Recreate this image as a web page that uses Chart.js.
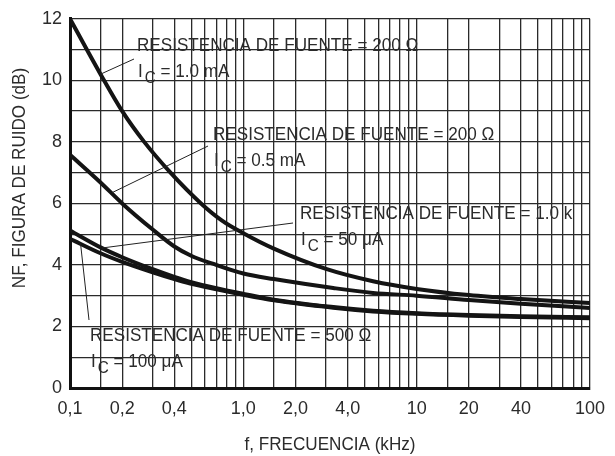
<!DOCTYPE html>
<html>
<head>
<meta charset="utf-8">
<script src="https://cdn.jsdelivr.net/npm/chart.js@4.4.1/dist/chart.umd.min.js"></script>
<style>
  html, body { margin: 0; padding: 0; background: #fff; }
</style>
</head>
<body>
<canvas id="nf" width="615" height="456"></canvas>
<script>
// NF (dB) vs frecuencia (kHz), una pareja de listas por curva
var freqA = [0.1, 0.125, 0.15, 0.2, 0.268, 0.38, 0.57, 0.75, 1.0, 1.5, 3.0, 5.6, 10, 20, 40, 100];
var nfA   = [12.0, 11.0, 10.2, 9.0, 8.0, 7.0, 6.0, 5.45, 5.03, 4.53, 3.87, 3.47, 3.22, 3.02, 2.89, 2.76];

var freqB = [0.1, 0.15, 0.2, 0.3, 0.4, 0.5, 0.665, 1.0, 1.5, 3.3, 5.6, 10, 20, 40, 100];
var nfB   = [7.58, 6.68, 6.0, 5.15, 4.6, 4.3, 4.04, 3.72, 3.54, 3.25, 3.09, 3.0, 2.86, 2.74, 2.6];

var freqC = [0.1, 0.15, 0.2, 0.3, 0.4, 0.5, 0.7, 1.0, 1.5, 3.3, 5.6, 10, 20, 40, 100];
var nfC   = [5.12, 4.57, 4.25, 3.86, 3.61, 3.44, 3.24, 3.06, 2.87, 2.63, 2.51, 2.43, 2.37, 2.33, 2.3];

var freqD = [0.1, 0.15, 0.2, 0.3, 0.4, 0.5, 0.7, 1.0, 1.5, 3.3, 5.6, 10, 20, 40, 100];
var nfD   = [4.85, 4.38, 4.1, 3.76, 3.54, 3.39, 3.21, 3.03, 2.85, 2.61, 2.49, 2.41, 2.35, 2.31, 2.27];

var xTicks = [0.1, 0.2, 0.4, 1, 2, 4, 10, 20, 40, 100];
var xTickLabels = ['0,1', '0,2', '0,4', '1,0', '2,0', '4,0', '10', '20', '40', '100'];
var yTicks = [0, 2, 4, 6, 8, 10, 12];

var FONT = '"Liberation Sans", Arial, sans-serif';
var TICKFONT = '"Liberation Sans Narrow", "Liberation Sans", Arial, sans-serif';
var INK = '#2b2b2b';

// lineas de rejilla: 1, 1.5, 2 ... 9 en cada decada
var gridFreqs = [];
[0.1, 1, 10].forEach(function (d) {
  [1, 1.5, 2, 3, 4, 5, 6, 7, 8, 9].forEach(function (m) {
    gridFreqs.push(+(d * m).toPrecision(3));
  });
});
gridFreqs.push(100);

function pts(f, n) {
  return f.map(function (v, i) { return { x: v, y: n[i] }; });
}

// texto estrecho (tipo Helvetica Condensed)
function ctext(ctx, s, x, y, size, align) {
  var sx = 0.9;
  ctx.save();
  ctx.font = size + 'px ' + FONT;
  ctx.translate(x, y);
  ctx.scale(sx, 1);
  ctx.textAlign = align || 'left';
  ctx.fillText(s, 0, 0);
  var w = ctx.measureText(s).width * sx;
  ctx.restore();
  return w;
}

// rotulos de cada curva
var notes = [
  { x: 137, y: 51, r: '200 \u03A9', ic: ' = 1.0 mA', from: [134, 59], to: [0.15, 10.2] },
  { x: 213, y: 140, r: '200 \u03A9', ic: ' = 0.5 mA', from: [208, 146], to: [0.175, 6.35] },
  { x: 300, y: 219, r: '1.0 k', ic: ' = 50 \u03BCA', from: [293, 223], to: [0.153, 4.55] },
  { x: 90, y: 341, r: '500 \u03A9', ic: ' = 100 \u03BCA', from: [89, 320], to: [0.115, 4.7] }
];

var notesPlugin = {
  id: 'notes',
  afterDatasetsDraw: function (chart) {
    var ctx = chart.ctx, xs = chart.scales.x, ys = chart.scales.y, a = chart.chartArea;
    ctx.save();
    ctx.fillStyle = INK;
    ctx.textBaseline = 'alphabetic';

    notes.forEach(function (n) {
      ctext(ctx, 'RESISTENCIA DE FUENTE = ' + n.r, n.x, n.y, 19);
      var w = ctext(ctx, 'I', n.x + 1, n.y + 26, 19);
      var w2 = ctext(ctx, 'C', n.x + 1 + w + 2, n.y + 32, 17);
      ctext(ctx, n.ic, n.x + 1 + w + 2 + w2, n.y + 26, 19);

      ctx.beginPath();
      ctx.strokeStyle = '#222';
      ctx.lineWidth = 1;
      ctx.moveTo(n.from[0], n.from[1]);
      ctx.lineTo(xs.getPixelForValue(n.to[0]), ys.getPixelForValue(n.to[1]));
      ctx.stroke();
    });

    // titulos de los ejes
    ctext(ctx, 'f, FRECUENCIA (kHz)', (a.left + a.right) / 2, 450, 19, 'center');
    ctx.save();
    ctx.translate(25, 178);
    ctx.rotate(-Math.PI / 2);
    ctext(ctx, 'NF, FIGURA DE RUIDO (dB)', 0, 0, 19, 'center');
    ctx.restore();
    ctx.restore();
  }
};

function line(f, n) {
  return {
    data: pts(f, n),
    borderColor: '#141414',
    borderWidth: 4,
    pointRadius: 0,
    fill: false,
    cubicInterpolationMode: 'monotone'
  };
}

new Chart(document.getElementById('nf'), {
  type: 'line',
  data: {
    datasets: [line(freqA, nfA), line(freqB, nfB), line(freqC, nfC), line(freqD, nfD)]
  },
  options: {
    responsive: false,
    animation: false,
    layout: { padding: { top: 16, right: 12, left: 0, bottom: 0 } },
    plugins: { legend: { display: false }, tooltip: { enabled: false } },
    scales: {
      x: {
        type: 'logarithmic',
        min: 0.1,
        max: 100,
        afterBuildTicks: function (s) {
          s.ticks = gridFreqs.map(function (v) { return { value: v }; });
        },
        afterFit: function (s) { s.height = 68; },
        ticks: {
          autoSkip: false,
          maxRotation: 0,
          padding: 10,
          color: INK,
          font: { family: TICKFONT, size: 18 },
          callback: function (v) {
            var i = xTicks.indexOf(v);
            return i < 0 ? '' : xTickLabels[i];
          }
        },
        grid: { color: '#2a2a2a', lineWidth: 1.3, drawTicks: false },
        border: { color: '#111', width: 3 }
      },
      y: {
        min: 0,
        max: 12,
        afterBuildTicks: function (s) {
          s.ticks = [];
          for (var v = 0; v <= 12; v++) s.ticks.push({ value: v });
        },
        afterFit: function (s) { s.width = 70; },
        ticks: {
          padding: 8,
          color: INK,
          font: { family: TICKFONT, size: 18 },
          callback: function (v) { return yTicks.indexOf(v) < 0 ? '' : String(v); }
        },
        grid: { color: '#2a2a2a', lineWidth: 1.3, drawTicks: false },
        border: { color: '#111', width: 3 }
      }
    }
  },
  plugins: [notesPlugin]
});
</script>
</body>
</html>
